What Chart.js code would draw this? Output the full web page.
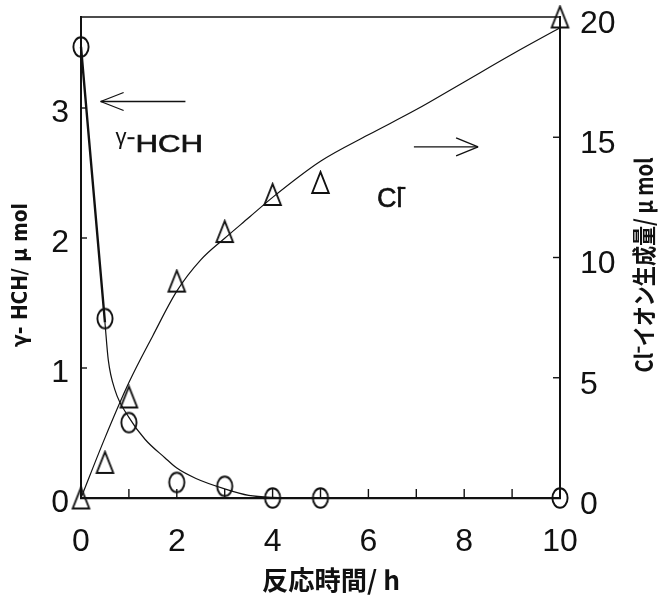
<!DOCTYPE html>
<html>
<head>
<meta charset="utf-8">
<script src="https://cdn.jsdelivr.net/npm/chart.js@4/dist/chart.umd.min.js"></script>
<style>
  html, body { margin: 0; padding: 0; background: #fff; }
  canvas { display: block; }
</style>
</head>
<body>
<canvas id="chart" width="671" height="607"></canvas>
<script>
'use strict';

// --- DATA ---
// measured points (reaction time in h)
const timeH = [0, 0.5, 1, 2, 3, 4, 5, 10];
const hchMeasured = [3.47, 1.38, 0.58, 0.12, 0.09, 0.0, 0.0, 0.0];   // γ-HCH, µmol (left)
const clMeasured = [0, 1.48, 4.2, 9.02, 11.08, 12.62, 13.12, 20];    // Cl-, µmol (right)

// hand-drawn fit curves
const hchCurveTime = [0, 0.5, 0.57, 0.71, 1, 1.34, 1.75, 2, 2.4, 3, 3.5, 4, 5];
const hchCurve = [3.47, 1.35, 1.06, 0.83, 0.62, 0.45, 0.31, 0.23, 0.15, 0.07, 0.02, 0.005, 0];
const clCurveTime = [0, 0.5, 1, 1.5, 2, 2.5, 3, 3.5, 4, 5, 6, 7, 8, 9, 10];
const clCurve = [0, 2.5, 4.8, 6.75, 8.6, 9.9, 10.8, 11.65, 12.5, 14.0, 15.1, 16.15, 17.3, 18.45, 19.55];

// axis ranges and labels
const xTickLabels = ['0', '', '2', '', '4', '', '6', '', '8', '', '10'];
const leftMax = 3.7;
const rightMax = 20;

const INK = '#111';

function pairs(xs, ys) {
    return xs.map((v, i) => ({ x: v, y: ys[i] }));
}

// open marker shapes (slightly tall, like the scan)
function makeEllipse() {
    const c = document.createElement('canvas');
    c.width = 20; c.height = 24;
    const g = c.getContext('2d');
    g.strokeStyle = INK; g.lineWidth = 1.9;
    g.beginPath();
    g.ellipse(10, 12, 7.6, 9.8, 0, 0, Math.PI * 2);
    g.stroke();
    return c;
}

function makeTriangle() {
    const c = document.createElement('canvas');
    c.width = 21; c.height = 25;
    const g = c.getContext('2d');
    g.strokeStyle = INK; g.lineWidth = 1.9; g.lineJoin = 'miter';
    g.beginPath();
    g.moveTo(10.5, 2);
    g.lineTo(2.2, 23);
    g.lineTo(18.8, 23);
    g.closePath();
    g.stroke();
    return c;
}

function fitText(ctx, text, cx, cy, len, font, rot) {
    ctx.save();
    ctx.font = font;
    ctx.translate(cx, cy);
    ctx.rotate(rot);
    const w = ctx.measureText(text).width;
    ctx.scale(len / w, 1);
    ctx.textAlign = 'center';
    ctx.textBaseline = 'middle';
    ctx.fillText(text, 0, 0);
    ctx.restore();
}

function seg(ctx, x1, y1, x2, y2) {
    ctx.beginPath();
    ctx.moveTo(x1, y1);
    ctx.lineTo(x2, y2);
    ctx.stroke();
}

// frame top, inward ticks, arrows, labels, axis titles
const decorations = {
    id: 'decorations',
    afterDraw(chart) {
        const { ctx, chartArea: a } = chart;
        const { x, y, y1 } = chart.scales;
        ctx.save();
        ctx.strokeStyle = INK;
        ctx.fillStyle = INK;

        ctx.lineWidth = 1.6;
        seg(ctx, a.left, a.top, a.right, a.top);

        ctx.lineWidth = 1.4;
        x.ticks.forEach(t => {
            if (t.value <= 0 || t.value >= 10) return;
            const px = x.getPixelForValue(t.value);
            seg(ctx, px, a.bottom, px, a.bottom - 9);
        });
        y.ticks.forEach(t => {
            if (t.value <= 0) return;
            const py = y.getPixelForValue(t.value);
            seg(ctx, a.left, py, a.left + 6, py);
        });
        y1.ticks.forEach(t => {
            if (t.value <= 0 || t.value >= rightMax) return;
            const py = y1.getPixelForValue(t.value);
            seg(ctx, a.right, py, a.right - 7, py);
        });

        // left arrow (γ-HCH -> left axis)
        ctx.lineWidth = 1.3;
        let tipX = x.getPixelForValue(0.41), tailX = x.getPixelForValue(2.18), ay = y.getPixelForValue(3.05);
        seg(ctx, tailX, ay, tipX, ay);
        seg(ctx, tipX, ay, tipX + 23, ay - 9);
        seg(ctx, tipX, ay, tipX + 23, ay + 9);

        // right arrow (Cl- -> right axis)
        tailX = x.getPixelForValue(6.95); tipX = x.getPixelForValue(8.29); ay = y1.getPixelForValue(14.6);
        seg(ctx, tailX, ay, tipX, ay);
        seg(ctx, tipX, ay, tipX - 22, ay - 9);
        seg(ctx, tipX, ay, tipX - 22, ay + 9);

        // γ-HCH label
        let px = x.getPixelForValue(0.72), py = y.getPixelForValue(2.66);
        ctx.textAlign = 'left';
        ctx.textBaseline = 'alphabetic';
        ctx.font = '22px "Liberation Sans"';
        ctx.fillText('γ', px, py - 8);
        ctx.lineWidth = 2;
        seg(ctx, px + 12, py - 14, px + 19, py - 14);
        ctx.save();
        ctx.translate(px + 20, py);
        ctx.scale(1.3, 1);
        ctx.font = '24px "Liberation Sans"';
        ctx.lineWidth = 0.6;
        ctx.fillText('HCH', 0, 0);
        ctx.strokeText('HCH', 0, 0);
        ctx.restore();

        // Cl- label
        px = x.getPixelForValue(6.18); py = y1.getPixelForValue(12.1);
        ctx.font = '27px "Liberation Sans"';
        ctx.lineWidth = 0.6;
        ctx.fillText('Cl', px, py);
        ctx.strokeText('Cl', px, py);
        const w = ctx.measureText('Cl').width;
        ctx.lineWidth = 2.2;
        seg(ctx, px + w - 5, py - 19, px + w + 3, py - 19);

        // axis titles
        fitText(ctx, 'γ- HCH/ μ mol', 22, 275, 144, 'bold 21px "DejaVu Sans"', -Math.PI / 2);
        fitText(ctx, 'Cl⁻イオン生成量/ μ mol', 644, 265, 215, 'bold 24px "Noto Sans CJK JP"', -Math.PI / 2);
        fitText(ctx, '反応時間/ h', 331, 580, 138, 'bold 26px "Noto Sans CJK JP"', 0);

        ctx.restore();
    }
};

const ellipse = makeEllipse();
const triangle = makeTriangle();
const tickFont = { family: '"Liberation Sans", Arial, sans-serif', size: 32 };

// fixed scale sizes so the plot box sits where the original's does
function fixVertical(width) {
    return s => { s.width = width; s.paddingTop = 0; s.paddingBottom = 0; };
}

new Chart(document.getElementById('chart').getContext('2d'), {
    type: 'scatter',
    data: {
        datasets: [
            {
                label: 'γ-HCH fit',
                data: pairs(hchCurveTime, hchCurve),
                yAxisID: 'y',
                showLine: true,
                borderColor: INK,
                borderWidth: 1.2,
                segment: { borderWidth: c => (c.p0DataIndex === 0 ? 2.4 : 1.2) },
                cubicInterpolationMode: 'monotone',
                pointRadius: 0,
                clip: false
            },
            {
                label: 'Cl- fit',
                data: pairs(clCurveTime, clCurve),
                yAxisID: 'y1',
                showLine: true,
                borderColor: INK,
                borderWidth: 1.2,
                cubicInterpolationMode: 'monotone',
                pointRadius: 0,
                clip: false
            },
            {
                label: 'γ-HCH',
                data: pairs(timeH, hchMeasured),
                yAxisID: 'y',
                pointStyle: ellipse,
                pointRadius: 10,
                clip: false
            },
            {
                label: 'Cl-',
                data: pairs(timeH, clMeasured),
                yAxisID: 'y1',
                pointStyle: triangle,
                pointRadius: 10,
                clip: false
            }
        ]
    },
    options: {
        responsive: false,
        animation: false,
        layout: { padding: { top: 17 } },
        plugins: {
            legend: { display: false },
            tooltip: { enabled: false }
        },
        scales: {
            x: {
                type: 'linear',
                min: 0,
                max: 10,
                afterFit: s => { s.height = 109; s.paddingLeft = 0; s.paddingRight = 0; },
                grid: { drawOnChartArea: false, drawTicks: false },
                border: { display: true, color: INK, width: 2.2 },
                ticks: {
                    stepSize: 1,
                    autoSkip: false,
                    maxRotation: 0,
                    padding: 25,
                    color: INK,
                    font: tickFont,
                    callback: (v, i) => xTickLabels[i]
                }
            },
            y: {
                position: 'left',
                min: 0,
                max: leftMax,
                afterFit: fixVertical(81),
                grid: { drawOnChartArea: false, drawTicks: false },
                border: { display: true, color: INK, width: 2 },
                ticks: {
                    stepSize: 1,
                    includeBounds: false,
                    padding: 12,
                    labelOffset: 5,
                    color: INK,
                    font: tickFont
                }
            },
            y1: {
                position: 'right',
                min: 0,
                max: rightMax,
                afterFit: fixVertical(111),
                grid: { drawOnChartArea: false, drawTicks: false },
                border: { display: true, color: INK, width: 2 },
                ticks: {
                    stepSize: 5,
                    padding: 20,
                    labelOffset: 7,
                    color: INK,
                    font: tickFont
                }
            }
        }
    },
    plugins: [decorations]
});
</script>
</body>
</html>
